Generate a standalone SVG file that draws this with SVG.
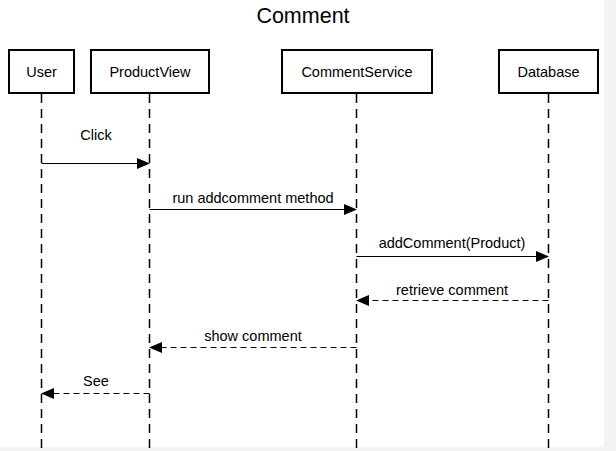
<svg xmlns="http://www.w3.org/2000/svg" width="616" height="451" viewBox="0 0 616 451">
<defs>
<marker id="ah" markerWidth="13" markerHeight="11" refX="12" refY="5.5" orient="auto" markerUnits="userSpaceOnUse">
<path d="M0,0 L13,5.5 L0,11 Z" fill="#000"/>
</marker>
<style>
text{font-family:"Liberation Sans",Arial,sans-serif;fill:#000}
.box{fill:#fff;stroke:#000;stroke-width:2}
.life{stroke:#000;stroke-width:1.5;stroke-dasharray:9 6;fill:none}
.msg{stroke:#000;stroke-width:1.2;fill:none;marker-end:url(#ah)}
.ret{stroke-dasharray:6 4}
.lbl{font-size:14.5px;text-anchor:middle}
.name{font-size:14.5px;text-anchor:middle}
</style>
</defs>
<rect x="0" y="0" width="616" height="451" fill="#fff"/>
<rect x="604" y="0" width="12" height="451" fill="#f3f3f3"/>
<rect x="0" y="447" width="616" height="4" fill="#f3f3f3"/>
<text x="303" y="23" font-size="21.5" text-anchor="middle">Comment</text>
<g id="lifelines">
<line class="life" x1="41.5" y1="94" x2="41.5" y2="450"/>
<line class="life" x1="149.5" y1="94" x2="149.5" y2="450"/>
<line class="life" x1="356.5" y1="94" x2="356.5" y2="450"/>
<line class="life" x1="548.5" y1="94" x2="548.5" y2="450"/>
</g>
<g id="User"><rect class="box" x="9" y="50" width="65" height="43"/><text class="name" x="41.5" y="77">User</text></g>
<g id="ProductView"><rect class="box" x="91" y="50" width="118" height="43"/><text class="name" x="150" y="77">ProductView</text></g>
<g id="CommentService"><rect class="box" x="282" y="50" width="150" height="43"/><text class="name" x="357" y="77">CommentService</text></g>
<g id="Database"><rect class="box" x="499" y="50" width="99" height="43"/><text class="name" x="548.5" y="77">Database</text></g>
<g id="connectors">
<line class="msg" x1="41.5" y1="163.5" x2="149" y2="163.5"/>
<text class="lbl" x="96" y="140">Click</text>
<line class="msg" x1="149.5" y1="209.5" x2="356" y2="209.5"/>
<text class="lbl" x="253" y="203">run addcomment method</text>
<line class="msg" x1="356.5" y1="256.5" x2="548" y2="256.5"/>
<text class="lbl" x="452" y="248">addComment(Product)</text>
<line class="msg ret" x1="548.5" y1="300.5" x2="357" y2="300.5"/>
<text class="lbl" x="452" y="295">retrieve comment</text>
<line class="msg ret" x1="356.5" y1="347.5" x2="150" y2="347.5"/>
<text class="lbl" x="253" y="341">show comment</text>
<line class="msg ret" x1="149.5" y1="393.5" x2="42" y2="393.5"/>
<text class="lbl" x="96" y="386">See</text>
</g>
</svg>
